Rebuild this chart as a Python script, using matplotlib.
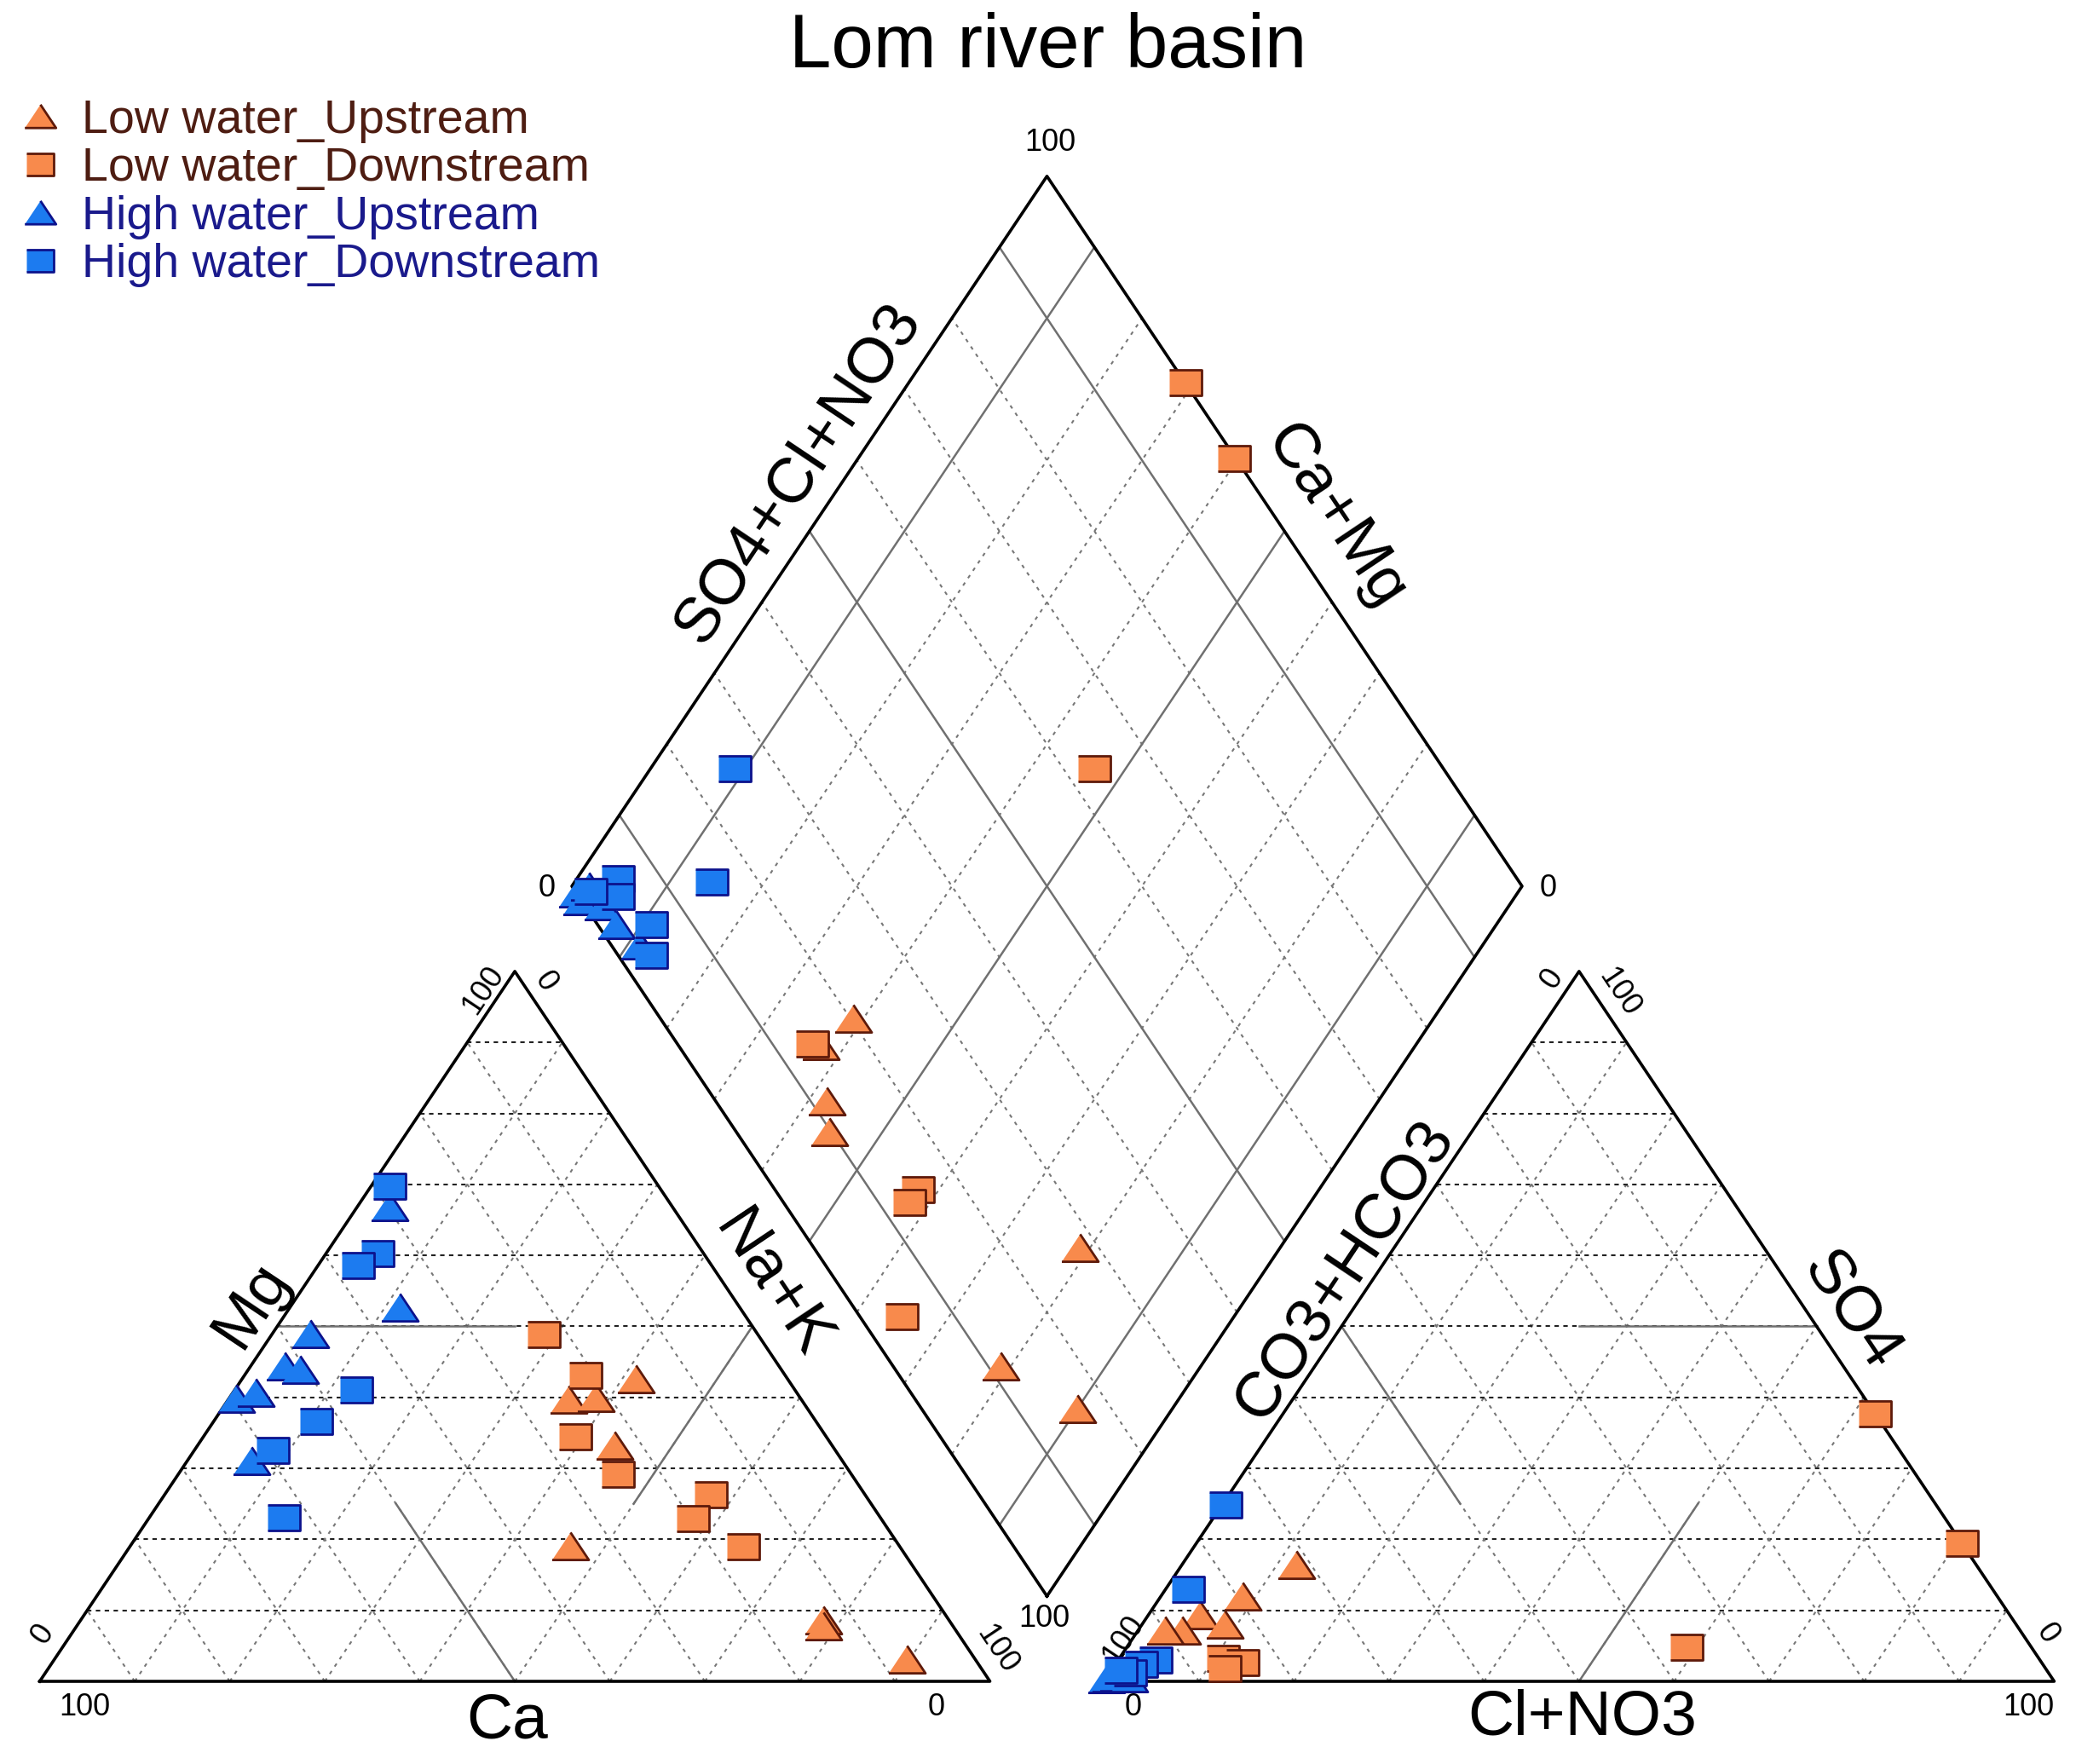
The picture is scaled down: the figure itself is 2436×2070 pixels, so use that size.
import numpy as np
import matplotlib
matplotlib.use('Agg')
import matplotlib.pyplot as plt

plt.rcParams['font.family'] = ['Liberation Sans', 'DejaVu Sans']

# cation triangle, percent: Mg and Na+K (Ca is the rest)
low_up_mg = [42.6, 39.7, 40.0, 33.3, 19.1, 8.6, 7.8, 3.1]
low_up_nak = [41.4, 35.8, 38.5, 43.8, 46.3, 78.2, 78.6, 89.7]
low_down_mg = [48.8, 43.1, 34.5, 29.2, 26.3, 22.9, 19.0]
low_down_nak = [28.6, 35.9, 39.1, 46.2, 57.5, 57.3, 64.5]
high_up_mg = [66.9, 52.7, 49.0, 44.4, 43.9, 39.9, 40.7, 31.1]
high_up_nak = [3.4, 11.5, 4.0, 3.6, 5.4, 0.7, 2.4, 6.7]
high_down_mg = [69.7, 60.3, 58.6, 41.0, 36.6, 32.5, 23.0]
high_down_nak = [2.0, 5.4, 4.2, 12.8, 10.8, 8.3, 14.2]

# anion triangle, percent: SO4 and Cl+NO3 (CO3+HCO3 is the rest)
low_up_so4 = [16.4, 12.0, 9.4, 8.0, 7.2, 7.2]
low_up_cl = [12.0, 8.6, 5.4, 8.7, 4.6, 2.8]
low_down_so4 = [37.7, 19.4, 4.8, 3.2, 2.6, 1.8]
low_down_cl = [62.3, 80.6, 58.9, 10.9, 13.3, 11.8]
high_up_so4 = [0.4, 0.5, 0.6, 0.5]
high_up_cl = [0.0, 0.4, 1.2, 2.4]
high_down_so4 = [24.8, 13.0, 3.0, 2.4, 1.2, 1.6]
high_down_cl = [0.4, 2.3, 3.9, 2.7, 2.1, 1.0]

# diamond, percent: SO4+Cl+NO3 and Ca+Mg
low_up_s = [20.3, 14.9, 11.7, 9.8, 28.0, 11.3, 16.4]
low_up_c = [61.1, 62.6, 58.1, 55.6, 21.1, 21.1, 10.0]
low_down_s = [100.0, 99.8, 63.3, 14.2, 15.0, 13.3, 4.4]
low_down_c = [70.9, 60.4, 53.3, 63.6, 42.2, 42.2, 35.0]
high_up_s = [0.0, 0.0, 1.8, 1.8, 2.0, 2.9]
high_up_c = [99.0, 98.0, 98.2, 95.4, 92.6, 88.8]
high_down_s = [25.4, 15.0, 5.4, 4.1, 1.6, 5.6, 3.5]
high_down_c = [91.2, 85.6, 95.7, 94.4, 97.7, 89.0, 86.8]

labels = ['Low water_Upstream', 'Low water_Downstream',
          'High water_Upstream', 'High water_Downstream']

G = 0.12
H = np.sqrt(3) / 2


def cation_xy(mg, nak):
    mg = np.asarray(mg) / 100.0
    nak = np.asarray(nak) / 100.0
    return nak + mg / 2, mg * H


def anion_xy(so4, cl):
    so4 = np.asarray(so4) / 100.0
    cl = np.asarray(cl) / 100.0
    return 1 + G + cl + so4 / 2, so4 * H


def diamond_xy(s, c):
    s = np.asarray(s) / 100.0
    c = np.asarray(c) / 100.0
    return 1 + G / 2 + 0.5 * (s - c), G * H + H * (s + c)


fig = plt.figure(figsize=(24.36, 20.70), dpi=100)
ax = fig.add_axes([0, 0, 1, 1])
ax.set_xlim(-46.6 / 1115, (2436 - 46.6) / 1115)
ax.set_ylim((1973 - 2070) / 962, 1973 / 962)
ax.axis('off')

hdash = dict(color='#222222', lw=1.5, ls=(0, (2.5, 2.5)), zorder=1)
ddash = dict(color='#777777', lw=1.5, ls=(0, (2, 3)), zorder=1)
solid = dict(color='#707070', lw=1.8, zorder=2)
frame = dict(color='black', lw=2.6, zorder=3)

ticks = np.arange(1, 10) / 10.0
for x0 in [0, 1 + G]:
    for t in ticks:
        ax.plot([x0 + t / 2, x0 + 1 - t / 2], [t * H, t * H], **hdash)
        ax.plot([x0 + t, x0 + t + (1 - t) / 2], [0, (1 - t) * H], **ddash)
        ax.plot([x0 + 1 - t, x0 + (1 - t) / 2], [0, (1 - t) * H], **ddash)
    ax.plot([x0, x0 + 1, x0 + 0.5, x0], [0, 0, H, 0], **frame)

# classification lines, cation triangle (Mg, Na+K pairs)
for a, b in [((50, 0), (50, 25)), ((0, 50), (25, 25)), ((25, 50), (50, 50))]:
    xs, ys = cation_xy([a[0], b[0]], [a[1], b[1]])
    ax.plot(xs, ys, **solid)
# classification lines, anion triangle (SO4, Cl pairs)
for a, b in [((50, 25), (50, 50)), ((0, 50), (25, 50)), ((25, 25), (50, 0))]:
    xs, ys = anion_xy([a[0], b[0]], [a[1], b[1]])
    ax.plot(xs, ys, **solid)

# diamond grid
for t in ticks:
    style = solid if round(t * 10) in (1, 5, 9) else ddash
    xs, ys = diamond_xy([t * 100, t * 100], [0, 100])
    ax.plot(xs, ys, **style)
    xs, ys = diamond_xy([0, 100], [t * 100, t * 100])
    ax.plot(xs, ys, **style)
xs, ys = diamond_xy([0, 100, 100, 0, 0], [0, 0, 100, 100, 0])
ax.plot(xs, ys, **frame)

tri = [(-1, -0.75), (1, -0.75), (0, 0.75)]
sq = [(-1, -0.82), (1, -0.82), (1, 0.82), (-1, 0.82)]
orange, orange_edge = '#F88A4C', '#5E1A0A'
blue, blue_edge = '#1C7BF0', '#0C128C'
styles = [dict(marker=tri, ms=31, mfc=orange, mec=orange_edge),
          dict(marker=sq, ms=27, mfc=orange, mec=orange_edge),
          dict(marker=tri, ms=31, mfc=blue, mec=blue_edge),
          dict(marker=sq, ms=27, mfc=blue, mec=blue_edge)]

cat = [(low_up_mg, low_up_nak), (low_down_mg, low_down_nak),
       (high_up_mg, high_up_nak), (high_down_mg, high_down_nak)]
an = [(low_up_so4, low_up_cl), (low_down_so4, low_down_cl),
      (high_up_so4, high_up_cl), (high_down_so4, high_down_cl)]
dia = [(low_up_s, low_up_c), (low_down_s, low_down_c),
       (high_up_s, high_up_c), (high_down_s, high_down_c)]

handles = []
for i in range(4):
    st = styles[i]
    x, y = cation_xy(*cat[i])
    h, = ax.plot(x, y, ls='none', mew=2.0, zorder=5, **st)
    handles.append(h)
    x, y = anion_xy(*an[i])
    ax.plot(x, y, ls='none', mew=2.0, zorder=5, **st)
    x, y = diamond_xy(*dia[i])
    ax.plot(x, y, ls='none', mew=2.0, zorder=5, **st)

leg = ax.legend(handles, labels, loc='upper left', bbox_to_anchor=(0.0103, 0.944),
                bbox_transform=fig.transFigure, frameon=False, fontsize=40,
                handlelength=0.8, handletextpad=0.48, labelspacing=0.08,
                borderpad=0, borderaxespad=0, markerscale=0.85,
                labelcolor=['#4E1D12', '#4E1D12', '#1A1A8C', '#1A1A8C'])

# angle of triangle sides on screen
p0 = ax.transData.transform((0, 0))
p1 = ax.transData.transform((0.5, H))
ang = np.degrees(np.arctan2(p1[1] - p0[1], p1[0] - p0[0]))

ax.text(1.061, 1.993, 'Lom river basin', fontsize=64, ha='center', va='center')
big = 54
ax.text(0.492, -0.049, 'Ca', fontsize=big, ha='center', va='center')
ax.text(1.623, -0.045, 'Cl+NO3', fontsize=big, ha='center', va='center')
ax.text(0.223, 0.460, 'Mg', fontsize=big, ha='center', va='center', rotation=ang)
ax.text(0.771, 0.484, 'Na+K', fontsize=big, ha='center', va='center', rotation=-ang)
ax.text(1.373, 0.501, 'CO3+HCO3', fontsize=big, ha='center', va='center', rotation=ang)
ax.text(1.906, 0.452, 'SO4', fontsize=big, ha='center', va='center', rotation=-ang)
ax.text(0.798, 1.474, 'SO4+Cl+NO3', fontsize=big, ha='center', va='center', rotation=ang)
ax.text(1.363, 1.421, 'Ca+Mg', fontsize=big, ha='center', va='center', rotation=-ang)

small = 26
xr = 1 + G
bx, by = diamond_xy(0, 0)
tx, ty = diamond_xy(100, 100)
lx, ly = diamond_xy(0, 100)
rx, ry = diamond_xy(100, 0)
corner = [
    ('100', (0.5, H), (-27, -16), ang), ('0', (0.5, H), (26, -9), -ang),
    ('0', (0, 0), (3, 40), ang), ('100', (0, 0), (38, -22), 0),
    ('0', (1, 0), (-45, -22), 0), ('100', (1, 0), (6, 27), -ang),
    ('0', (xr + 0.5, H), (-23, -6), ang), ('100', (xr + 0.5, H), (34, -18), -ang),
    ('100', (xr, 0), (16.5, 35.6), ang), ('0', (xr, 0), (25, -22), 0),
    ('0', (xr + 1, 0), (-6, 40), -ang), ('100', (xr + 1, 0), (-22, -22), 0),
    ('100', (tx, ty), (3, 28), 0), ('0', (lx, ly), (-21, -2), 0),
    ('0', (rx, ry), (22, -2), 0), ('100', (bx, by), (-2, -19), 0),
]
for txt, xy, off, rot in corner:
    ax.annotate(txt, xy=xy, xytext=off, textcoords='offset points',
                fontsize=small, ha='center', va='center', rotation=rot)

fig.savefig('out.png', dpi=100)
